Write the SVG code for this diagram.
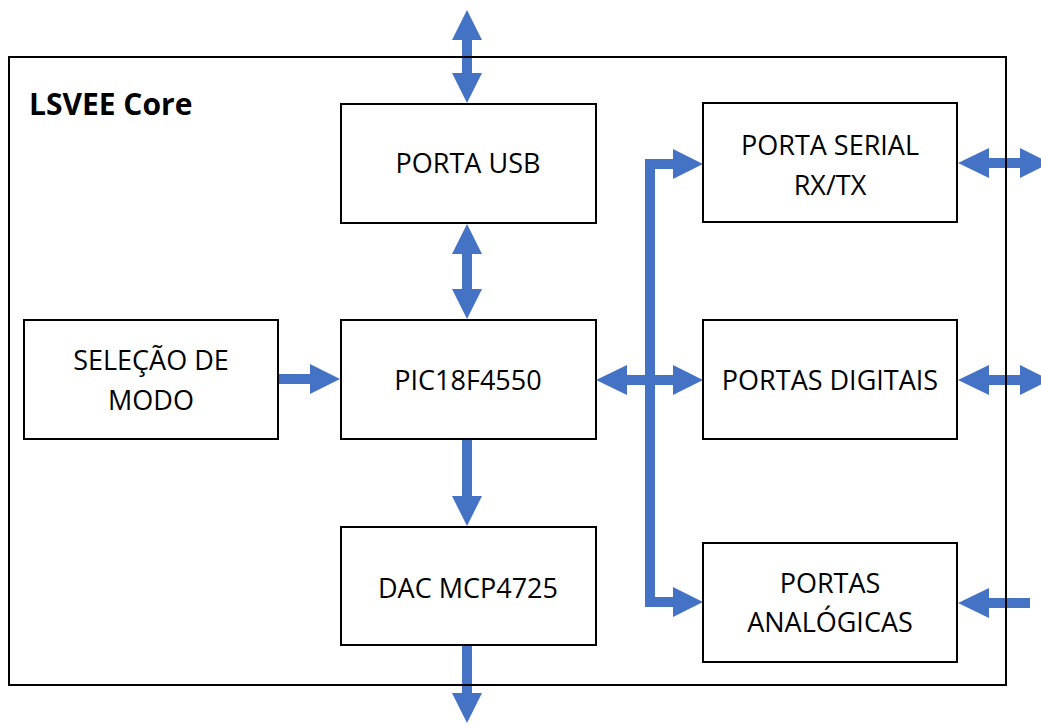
<svg xmlns="http://www.w3.org/2000/svg" width="1041" height="724" viewBox="0 0 1041 724">
<style>
.box{fill:#fff;stroke:#000;stroke-width:2}
.lbl{font-family:"Open Sans","Noto Sans",sans-serif;font-size:27px;fill:#000;text-anchor:middle}
.arr{fill:#4472C4}
.bus{fill:none;stroke:#4472C4;stroke-width:10}
</style>
<rect x="0" y="0" width="1041" height="724" fill="#fff"/>
<g id="connectors">
<polygon class="arr" points="467,10 482,40 472,40 472,73 482,73 467,103 452,73 462,73 462,40 452,40"/>
<polygon class="arr" points="467,224 482,254 472,254 472,289 482,289 467,319 452,289 462,289 462,254 452,254"/>
<polygon class="arr" points="278,374 310,374 310,364 340,379 310,394 310,384 278,384"/>
<polygon class="arr" points="462,440 472,440 472,496 482,496 467,526 452,496 462,496"/>
<polygon class="arr" points="462,646 472,646 472,693 482,693 467,723 452,693 462,693"/>
<path class="bus" d="M674,164 H650 V602 H674"/>
<polygon class="arr" points="673,149 703,164 673,179"/>
<polygon class="arr" points="673,587 703,602 673,617"/>
<polygon class="arr" points="596,380 627,365 627,375 673,375 673,365 703,380 673,395 673,385 627,385 627,395"/>
<polygon class="arr" points="958,163 989,148 989,158 1020,158 1020,148 1050,163 1020,178 1020,168 989,168 989,178"/>
<polygon class="arr" points="958,380 989,365 989,375 1020,375 1020,365 1050,380 1020,395 1020,385 989,385 989,395"/>
<polygon class="arr" points="958,603 989,588 989,598 1030,598 1030,608 989,608 989,618"/>
</g>
<g id="frame">
<rect x="9" y="57" width="997" height="628" fill="none" stroke="#000" stroke-width="2"/>
<text x="29" y="115" style="font-family:'Open Sans','Noto Sans',sans-serif;font-size:30px;font-weight:bold">LSVEE Core</text>
</g>
<g id="usb"><rect class="box" x="341" y="104" width="255" height="119"/><text class="lbl" x="468" y="173">PORTA USB</text></g>
<g id="pic"><rect class="box" x="341" y="320" width="255" height="119"/><text class="lbl" x="468" y="390">PIC18F4550</text></g>
<g id="dac"><rect class="box" x="341" y="527" width="255" height="118"/><text class="lbl" x="468" y="598">DAC MCP4725</text></g>
<g id="modo"><rect class="box" x="24" y="320" width="254" height="119"/><text class="lbl" x="151" y="370">SELEÇÃO DE</text><text class="lbl" x="151" y="410">MODO</text></g>
<g id="serial"><rect class="box" x="703" y="103" width="254" height="119"/><text class="lbl" x="830" y="155">PORTA SERIAL</text><text class="lbl" x="830" y="195">RX/TX</text></g>
<g id="digitais"><rect class="box" x="703" y="320" width="254" height="119"/><text class="lbl" x="830" y="390">PORTAS DIGITAIS</text></g>
<g id="analogicas"><rect class="box" x="703" y="543" width="254" height="119"/><text class="lbl" x="830" y="593">PORTAS</text><text class="lbl" x="830" y="632">ANALÓGICAS</text></g>
</svg>
